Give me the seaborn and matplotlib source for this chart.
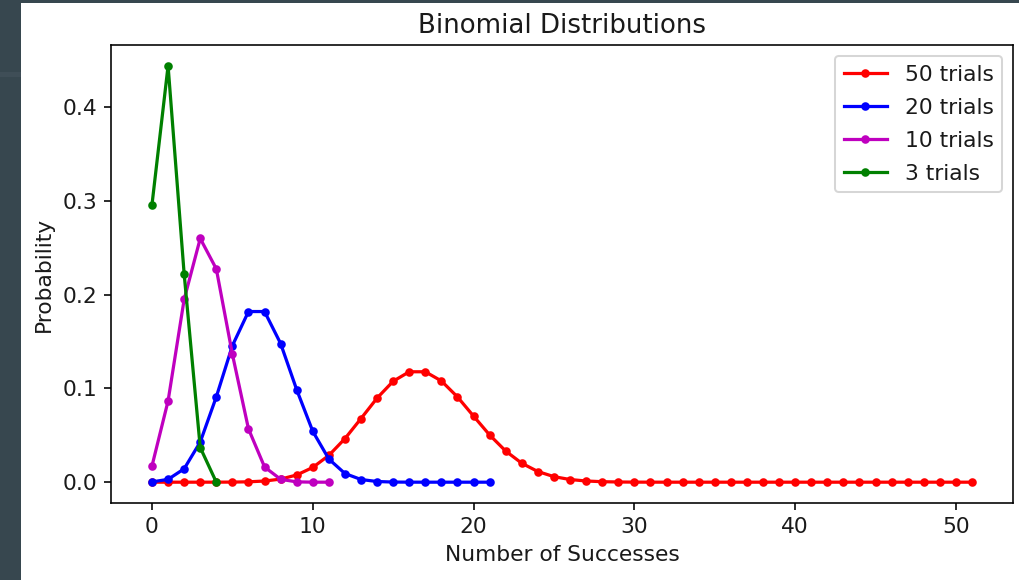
import matplotlib
matplotlib.use("Agg")
import matplotlib.pyplot as plt
import seaborn as sns
from matplotlib.patches import Rectangle

# Binomial probabilities (p = 1/3), one list per number of trials
k_50 = list(range(52))
p_50 = [0.0000000016, 0.000000039, 0.00000048, 0.0000038, 0.000023, 0.000104,
        0.000389, 0.001224, 0.00329, 0.00768, 0.01574, 0.02861, 0.04649,
        0.06795, 0.08979, 0.10774, 0.11785, 0.11785, 0.10803, 0.09097,
        0.07050, 0.05036, 0.03319, 0.02020, 0.01136, 0.00591, 0.00284,
        0.00126, 0.00052, 0.00020, 0.000069, 0.000022, 0.0000066, 0.0000018,
        0.0, 0.0, 0.0, 0.0, 0.0, 0.0, 0.0, 0.0, 0.0, 0.0, 0.0, 0.0, 0.0,
        0.0, 0.0, 0.0, 0.0, 0.0]

k_20 = list(range(22))
p_20 = [0.00030, 0.00301, 0.01429, 0.04286, 0.09107, 0.14571, 0.18213,
        0.18213, 0.14798, 0.09866, 0.05426, 0.02466, 0.00925, 0.00285,
        0.00071, 0.00014, 0.000022, 0.0000026, 0.0, 0.0, 0.0, 0.0]

k_10 = list(range(12))
p_10 = [0.01734, 0.08671, 0.19509, 0.26012, 0.22761, 0.13656, 0.05690,
        0.01626, 0.00305, 0.00034, 0.000017, 0.0]

k_3 = list(range(5))
p_3 = [0.2963, 0.4444, 0.2222, 0.0370, 0.0]

series = [
    (k_50, p_50, "r", "50 trials"),
    (k_20, p_20, "b", "20 trials"),
    (k_10, p_10, "m", "10 trials"),
    (k_3, p_3, "g", "3 trials"),
]

plt.rcParams.update({
    "font.size": 10.8,
    "axes.titlesize": 12.9,
    "text.color": "#1a1a1a",
    "axes.labelcolor": "#1a1a1a",
    "xtick.labelcolor": "#1a1a1a",
    "ytick.labelcolor": "#1a1a1a",
})

fig = plt.figure(figsize=(1019 / 145, 580 / 145), dpi=145)
fig.patch.set_facecolor("white")

# dark window frame along the left and top edges
fig.patches.append(Rectangle((0, 0), 21 / 1019, 1, transform=fig.transFigure,
                             facecolor="#37474f", edgecolor="none", zorder=0))
fig.patches.append(Rectangle((0, 1 - 3 / 580), 1, 3 / 580, transform=fig.transFigure,
                             facecolor="#37474f", edgecolor="none", zorder=0))
fig.patches.append(Rectangle((0, 1 - 77 / 580), 21 / 1019, 5 / 580,
                             transform=fig.transFigure,
                             facecolor="#3f4e57", edgecolor="none", zorder=0))

ax = fig.add_axes([111 / 1019, 77 / 580, 902 / 1019, 458 / 580])

for ks, ps, col, lab in series:
    sns.lineplot(x=ks, y=ps, color=col, marker=".", markersize=6.5,
                 markeredgecolor=col, markeredgewidth=1.0, linewidth=1.6,
                 label=lab, ax=ax)

ax.set_title("Binomial Distributions")
ax.set_xlabel("Number of Successes")
ax.set_ylabel("Probability")
ax.set_xticks([0, 10, 20, 30, 40, 50])
ax.set_yticks([0.0, 0.1, 0.2, 0.3, 0.4])
ax.legend(loc="upper right", labelspacing=0.6)

fig.savefig("out.png", dpi=145)
